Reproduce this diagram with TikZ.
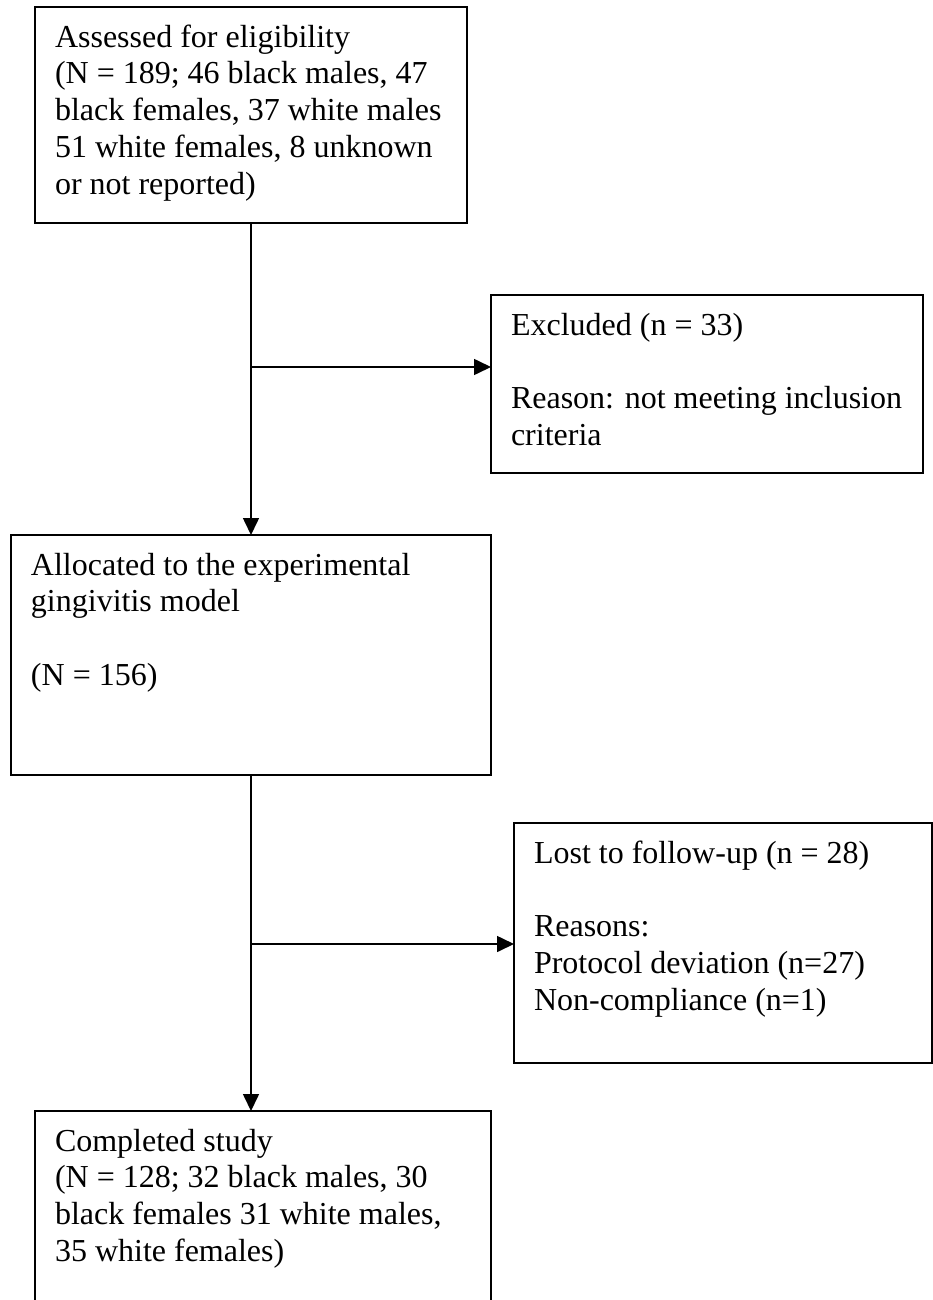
\documentclass[tikz,border=0pt]{standalone}
\usepackage{fontspec}
\setmainfont{Liberation Serif}
\usetikzlibrary{arrows.meta}
\newcommand\boxtxt[3]{\vbox to #2{\hsize=#1\relax\parindent=0pt\leftskip=20pt\rightskip=0pt plus 1fil\baselineskip=36.8pt\lineskip=0pt\parskip=0pt\vskip3.2pt\prevdepth=0pt #3\par\vfil}}
\begin{document}
\begin{tikzpicture}[x=1pt,y=1pt,
  box/.style={draw, line width=1.4pt, inner sep=0pt, outer sep=0pt, anchor=north west},
  arr/.style={line width=1.6pt, -{Triangle[length=17pt,width=16pt]}},
  font=\fontsize{32}{36.8}\selectfont]
\clip (0,0) rectangle (933,-1300);
\fill[white] (0,0) rectangle (933,-1300);
\node[box] (b1) at (35,-7) {\boxtxt{432pt}{216pt}{Assessed for eligibility\par (N = 189; 46 black males, 47\par black females, 37 white males\par 51 white females, 8 unknown\par or not reported)}};
\node[box] (b2) at (491,-295) {\boxtxt{432pt}{178pt}{Excluded (n = 33)\par\mbox{}\par Reason: not meeting inclusion\par criteria}};
\node[box] (b3) at (11,-535) {\boxtxt{480pt}{240pt}{Allocated to the experimental\par gingivitis model\par\mbox{}\par (N = 156)}};
\node[box] (b4) at (514,-823) {\boxtxt{418pt}{240pt}{Lost to follow-up (n = 28)\par\mbox{}\par Reasons:\par Protocol deviation (n=27)\par Non-compliance (n=1)}};
\node[box] (b5) at (35,-1111) {\boxtxt{456pt}{220pt}{Completed study\par (N = 128; 32 black males, 30\par black females 31 white males,\par 35 white females)}};
\coordinate (j1) at (251,-367);
\coordinate (j2) at (251,-944);
\draw[arr] (b1.south) -- (b3.north);
\draw[arr] (j1) -- (j1 -| b2.west);
\draw[arr] (b3.south) -- (b3.south |- b5.north);
\draw[arr] (j2) -- (j2 -| b4.west);
\end{tikzpicture}
\end{document}
